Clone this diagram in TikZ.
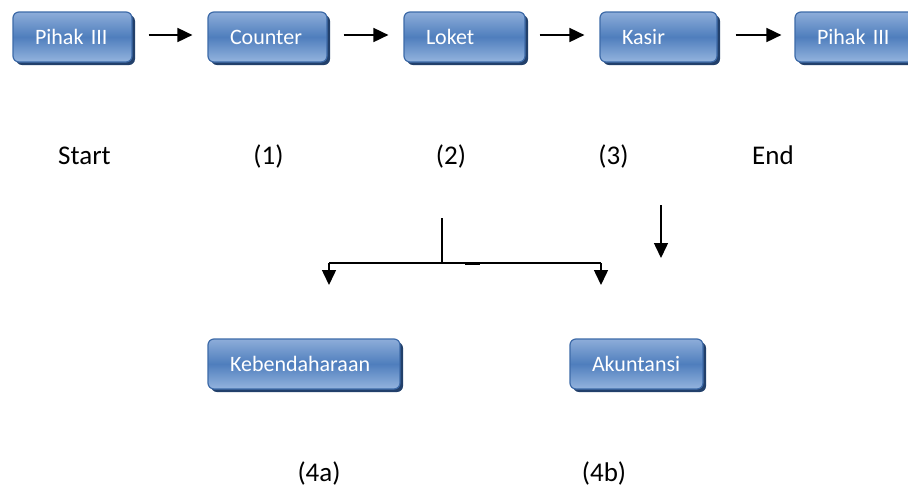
\documentclass[tikz,border=0pt]{standalone}
\usepackage{fontspec}
\setmainfont{Carlito}
\usetikzlibrary{arrows.meta,shadows}
\definecolor{boxtop}{HTML}{8DADD9}
\definecolor{boxmid}{HTML}{4F7EBD}
\definecolor{boxbot}{HTML}{94B4DE}
\definecolor{boxline}{HTML}{3D6AA8}
\definecolor{boxshadow}{HTML}{22406B}
\tikzset{
  flowbox/.style={draw=boxline, line width=1.2pt, rounded corners=6pt,
    top color=boxtop, bottom color=boxbot, middle color=boxmid,
    drop shadow={shadow xshift=3pt, shadow yshift=-3pt, fill=boxshadow, opacity=1},
    minimum height=50pt, inner xsep=22pt, inner ysep=0pt, align=left,
    text=white, font=\fontsize{22}{24}\selectfont},
  steplabel/.style={anchor=base, font=\fontsize{27}{30}\selectfont, inner sep=0pt},
  arr/.style={line width=1.8pt, -{Triangle[length=15pt,width=14pt]}},
  lline/.style={line width=1.5pt},
  larr/.style={line width=1.5pt, -{Triangle[length=15pt,width=14pt]}}
}
\begin{document}
\begin{tikzpicture}[x=1pt,y=-1pt]
\useasboundingbox[fill=white] (0,0) rectangle (908,491);
% top row boxes
\node[flowbox, text width=75pt] (b1) at (72.5,37) {Pihak III};
\node[flowbox, text width=75pt] (b2) at (267.5,37) {Counter};
\node[flowbox, text width=77pt] (b3) at (464.5,37) {Loket};
\node[flowbox, text width=73pt] (b4) at (658.5,37) {Kasir};
\node[flowbox, text width=75pt] (b5) at (854.5,37) {Pihak III};
% arrows
\draw[arr] ([xshift=16pt,yshift=2pt]b1.east) -- ([xshift=-15pt,yshift=2pt]b2.west);
\draw[arr] ([xshift=16pt,yshift=2pt]b2.east) -- ([xshift=-15pt,yshift=2pt]b3.west);
\draw[arr] ([xshift=14pt,yshift=2pt]b3.east) -- ([xshift=-15pt,yshift=2pt]b4.west);
\draw[arr] ([xshift=18pt,yshift=2pt]b4.east) -- ([xshift=-13pt,yshift=2pt]b5.west);
% labels
\node[steplabel] (lstart) at (84.5,164) {Start};
\node[steplabel] (l1) at (268.5,164) {(1)};
\node[steplabel] (l2) at (451,164) {(2)};
\node[steplabel] (l3) at (613.5,164) {(3)};
\node[steplabel] (lend) at (773,164) {End};
% lower boxes
\node[flowbox, text width=148pt] (b6) at (304,364) {Kebendaharaan};
\node[flowbox, text width=89pt] (b7) at (636.5,364) {Akuntansi};
% branch connectors
\coordinate (jtop) at (442,218);
\coordinate (jmid) at (442,263);
\coordinate (jl) at (329,263);
\coordinate (jr) at (601,263);
\coordinate (al) at (329,285);
\coordinate (ar) at (601,285);
\coordinate (rtop) at (661,205);
\coordinate (rbot) at (661,258);
\coordinate (tk1) at (465,263);
\coordinate (tk2) at (480,263);
\draw[lline] (jtop) -- (jmid);
\draw[lline] (jl) -- (jr);
\draw[larr] (jl) -- (al);
\draw[larr] (jr) -- (ar);
\draw[line width=3pt] (tk1) -- (tk2);
\draw[larr] (rtop) -- (rbot);
% bottom labels
\node[steplabel] (l4a) at (319,481) {(4a)};
\node[steplabel] (l4b) at (604,481) {(4b)};
\end{tikzpicture}
\end{document}
